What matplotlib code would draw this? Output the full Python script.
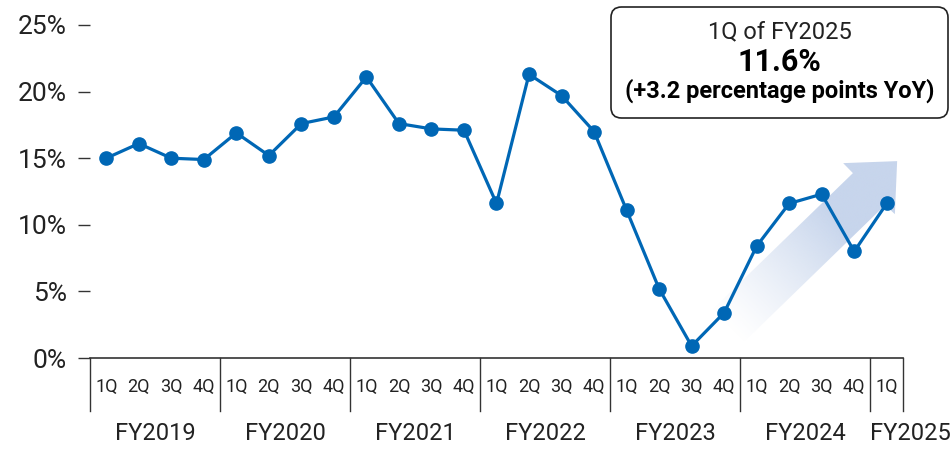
import numpy as np
import matplotlib.pyplot as plt
from matplotlib.patches import Polygon, FancyBboxPatch
from matplotlib.colors import to_rgb

plt.rcParams['font.family'] = ['Roboto', 'DejaVu Sans']

# data
years = ['FY2019', 'FY2020', 'FY2021', 'FY2022', 'FY2023', 'FY2024', 'FY2025']
quarters_per_year = [4, 4, 4, 4, 4, 4, 1]
quarter_names = ['1Q', '2Q', '3Q', '4Q']
values = [15.0, 16.1, 15.0, 14.9,
          16.9, 15.2, 17.6, 18.1,
          21.1, 17.6, 17.2, 17.1,
          11.6, 21.3, 19.7, 17.0,
          11.1, 5.2, 0.9, 3.4,
          8.4, 11.6, 12.3, 8.0,
          11.6]
y_ticks = [0, 5, 10, 15, 20, 25]

line_color = '#0067b5'
arrow_color = '#c7d5ec'
dark = '#333333'
txt = '#222222'
thin = 'normal'

W, H = 953, 457
fig = plt.figure(figsize=(W / 100, H / 100), dpi=100)
ax = fig.add_axes([90 / W, 1 - 358 / H, (903 - 90) / W, 333 / H])

x = np.arange(len(values))

# y axis
ax.set_yticks(y_ticks)
ax.set_yticklabels([f'{t}%' for t in y_ticks])
ax.tick_params(axis='y', length=8.6, width=1, color=dark, pad=8,
               labelsize=19, labelcolor=txt)
for lab in ax.get_yticklabels():
    lab.set_fontweight(thin)
ax.tick_params(axis='x', bottom=False, labelbottom=False)
for s in ['left', 'top', 'right']:
    ax.spines[s].set_visible(False)
ax.spines['bottom'].set_color(dark)
ax.spines['bottom'].set_linewidth(1.2)

ax.set_xlim(-0.5, len(values) - 0.5)
ax.set_ylim(0, 25)

# gradient arrow behind the line
arrow_pts = np.array([(18.59, 3.53), (22.96, 13.88), (22.66, 14.63), (24.32, 14.78),
                      (24.25, 10.8), (23.95, 11.48), (19.58, 1.13)])
poly = Polygon(arrow_pts, closed=True, facecolor='none', edgecolor='none')
ax.add_patch(poly)
gx = np.linspace(arrow_pts[:, 0].min(), arrow_pts[:, 0].max(), 300)
gy = np.linspace(arrow_pts[:, 1].min(), arrow_pts[:, 1].max(), 300)
GX, GY = np.meshgrid(gx, gy)
disp = ax.transData.transform(np.column_stack([GX.ravel(), GY.ravel()]))
tail = ax.transData.transform(arrow_pts[[0, 6]].mean(axis=0))
tip = ax.transData.transform(arrow_pts[3])
d = tip - tail
t = ((disp - tail) @ d) / (d @ d)
alpha = np.clip(t / 0.65, 0, 1).reshape(GX.shape) ** 1.2
img = np.zeros(GX.shape + (4,))
img[..., :3] = to_rgb(arrow_color)
img[..., 3] = alpha
im = ax.imshow(img, extent=[gx[0], gx[-1], gy[0], gy[-1]], origin='lower',
               aspect='auto', zorder=2, interpolation='bilinear')
im.set_clip_path(poly)
ax.set_xlim(-0.5, len(values) - 0.5)
ax.set_ylim(0, 25)

# line
ax.plot(x, values, color=line_color, lw=2.3, marker='o', ms=9.5, zorder=5, clip_on=False)

# category axis below
xt = ax.get_xaxis_transform()
boundaries = np.concatenate([[0], np.cumsum(quarters_per_year)]) - 0.5
for b in boundaries:
    ax.plot([b, b], [0, -0.159], transform=xt, color=dark, lw=1, clip_on=False)
i = 0
for year, n in zip(years, quarters_per_year):
    for q in range(n):
        ax.text(i + q, -0.087, quarter_names[q], transform=xt, ha='center', va='center',
                fontsize=13, fontweight=thin, color=txt)
    if n == 4:
        ax.text(i + (n - 1) / 2, -0.228, year, transform=xt, ha='center', va='center',
                fontsize=17, fontweight=thin, color=txt)
    else:
        ax.text(i - 0.5, -0.228, year, transform=xt, ha='left', va='center',
                fontsize=17, fontweight=thin, color=txt)
    i += n

# callout box
box = FancyBboxPatch((611 / W, 1 - 118 / H), (948 - 611) / W, 111 / H,
                     boxstyle='round,pad=0,rounding_size=0.011',
                     mutation_aspect=W / H, transform=fig.transFigure,
                     facecolor='white', edgecolor='#222222', lw=1.2, zorder=10)
fig.patches.append(box)
cx = 779.5 / W
yoy = values[-1] - values[-5]
fig.text(cx, 1 - 32 / H, '1Q of FY2025', ha='center', va='center', fontsize=17,
         fontweight=thin, color=txt, zorder=11)
fig.text(cx, 1 - 62 / H, f'{values[-1]:.1f}%', ha='center', va='center', fontsize=22,
         fontweight='bold', color='#000000', zorder=11)
fig.text(cx, 1 - 91 / H, f'(+{yoy:.1f} percentage points YoY)', ha='center', va='center',
         fontsize=17, fontweight='bold', color='#000000', zorder=11)

fig.savefig('out.png', dpi=100)
